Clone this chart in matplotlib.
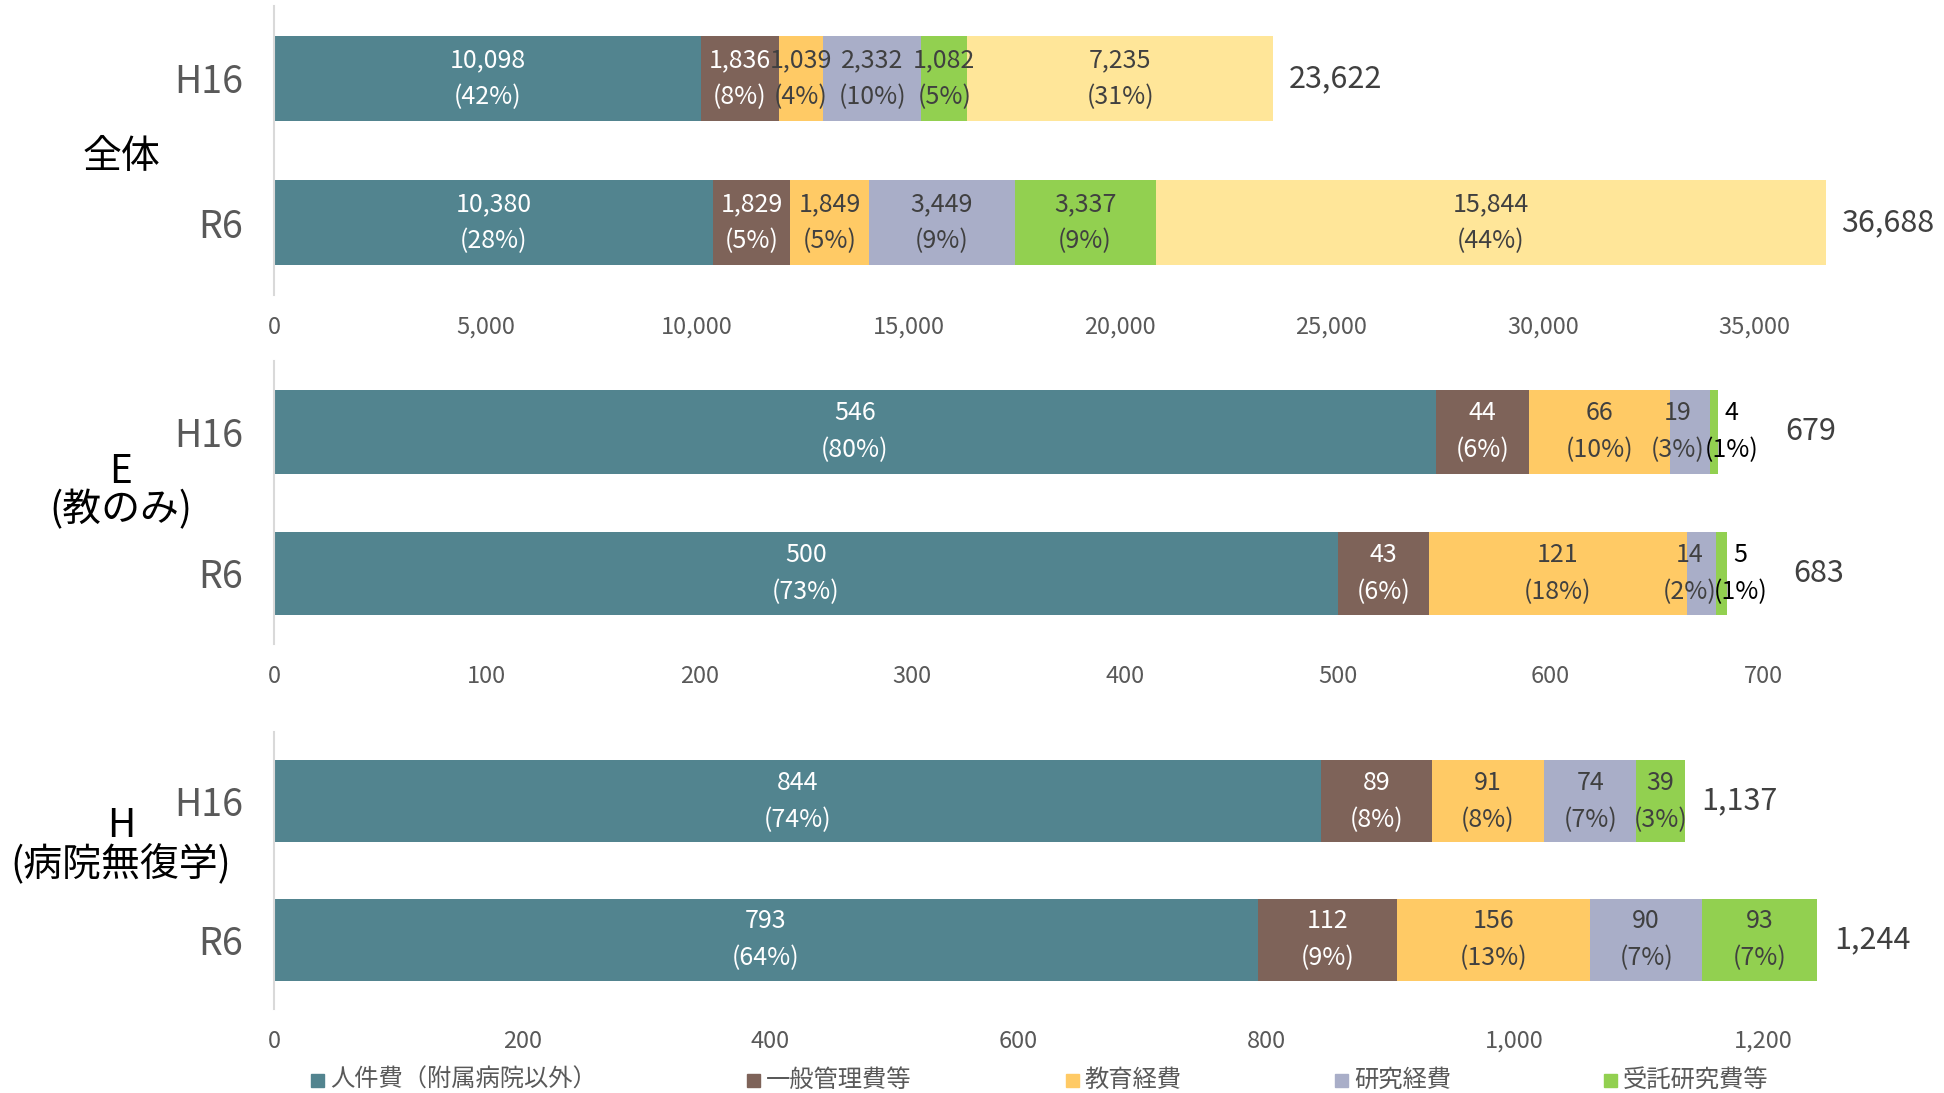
import matplotlib
matplotlib.use("Agg")
import matplotlib.pyplot as plt
from matplotlib.patches import Rectangle

plt.rcParams['font.family'] = ['Noto Sans CJK JP', 'DejaVu Sans']

# ---- data ----
years = ['H16', 'R6']
legend_names = ['人件費（附属病院以外）', '一般管理費等', '教育経費', '研究経費', '受託研究費等']
colors = ['#52848F', '#7E6359', '#FFCA65', '#A9AEC8', '#92D050', '#FFE699']

zentai_h16 = [10098, 1836, 1039, 2332, 1082, 7235]
zentai_h16_pct = [42, 8, 4, 10, 5, 31]
zentai_r6 = [10380, 1829, 1849, 3449, 3337, 15844]
zentai_r6_pct = [28, 5, 5, 9, 9, 44]

e_h16 = [546, 44, 66, 19, 4]
e_h16_pct = [80, 6, 10, 3, 1]
e_r6 = [500, 43, 121, 14, 5]
e_r6_pct = [73, 6, 18, 2, 1]

h_h16 = [844, 89, 91, 74, 39]
h_h16_pct = [74, 8, 8, 7, 3]
h_r6 = [793, 112, 156, 90, 93]
h_r6_pct = [64, 9, 13, 7, 7]

zentai_ticks = [0, 5000, 10000, 15000, 20000, 25000, 30000, 35000]
e_ticks = [0, 100, 200, 300, 400, 500, 600, 700]
h_ticks = [0, 200, 400, 600, 800, 1000, 1200]

# ---- layout ----
W, H = 1944, 1093
fig = plt.figure(figsize=(W / 100, H / 100), dpi=100)

AX_LEFT = 274 / W
AX_W = 1 - AX_LEFT

panels = [
    # (rows, pcts, ticks, xmax, bottom, height, total offset pt, title lines)
    ((zentai_h16, zentai_r6), (zentai_h16_pct, zentai_r6_pct), zentai_ticks,
     39480, 0.730, 0.2644, 11, [('全体', 157)]),
    ((e_h16, e_r6), (e_h16_pct, e_r6_pct), e_ticks,
     785, 0.4108, 0.2589, 48, [('E', 472), ('(教のみ)', 510)]),
    ((h_h16, h_r6), (h_h16_pct, h_r6_pct), h_ticks,
     1346, 0.0769, 0.2534, 12, [('H', 826), ('(病院無復学)', 864)]),
]

GRAY = '#595959'
DARK = '#404040'
LS = 1.55

for rows, pcts, ticks, xmax, bottom, height, tot_off, titles in panels:
    ax = fig.add_axes([AX_LEFT, bottom, AX_W, height])
    ypos = [1, 0]
    for vals, pc, y in zip(rows, pcts, ypos):
        total = sum(vals)
        small = [v < 0.02 * total for v in vals]
        left = 0
        for i, (v, p) in enumerate(zip(vals, pc)):
            ax.barh(y, v, left=left, height=0.59, color=colors[i], edgecolor='none')
            txt = f"{v:,}\n({p}%)"
            if small[i]:
                # tiny segment: label sits just right of the bar end
                ax.annotate(txt, (left + v, y), xytext=(9.5, 0), textcoords='offset points',
                            ha='center', va='center', fontsize=18, color='black',
                            linespacing=LS)
            else:
                tc = 'white' if i < 2 else DARK
                shift = -8.5 if (i + 1 < len(vals) and small[i + 1]) else 0
                ax.annotate(txt, (left + v / 2, y), xytext=(shift, 0),
                            textcoords='offset points', ha='center', va='center',
                            fontsize=18, color=tc, linespacing=LS)
            left += v
        ax.annotate(f"{total:,}", (total, y), xytext=(tot_off, 0), textcoords='offset points',
                    ha='left', va='center', fontsize=22, color=DARK)

    ax.set_xlim(0, xmax)
    ax.set_ylim(-0.5, 1.5)
    ax.set_xticks(ticks)
    ax.set_xticklabels([f"{t:,}" for t in ticks], fontsize=17, color=GRAY)
    ax.set_yticks(ypos)
    ax.set_yticklabels(years, fontsize=27, color=GRAY)
    ax.tick_params(axis='x', length=0, pad=15)
    ax.tick_params(axis='y', length=0, pad=22)
    for s in ['top', 'right', 'bottom']:
        ax.spines[s].set_visible(False)
    ax.spines['left'].set_color('#D9D9D9')
    ax.spines['left'].set_linewidth(1.5)
    ax.patch.set_alpha(0)

    for t, yy in titles:
        fig.text(121 / W, 1 - yy / H, t, ha='center', va='center', fontsize=28, color='black')

# ---- legend ----
legend_x = [311, 747, 1066, 1335, 1604]
for name, c, lx in zip(legend_names, colors, legend_x):
    fig.add_artist(Rectangle((lx / W, 1 - 1087 / H), 13 / W, 13 / H,
                             transform=fig.transFigure, color=c))
    fig.text((lx + 19) / W, 1 - 1080 / H, name, ha='left', va='center',
             fontsize=17.5, color=GRAY)

fig.savefig('out.png', dpi=100)
